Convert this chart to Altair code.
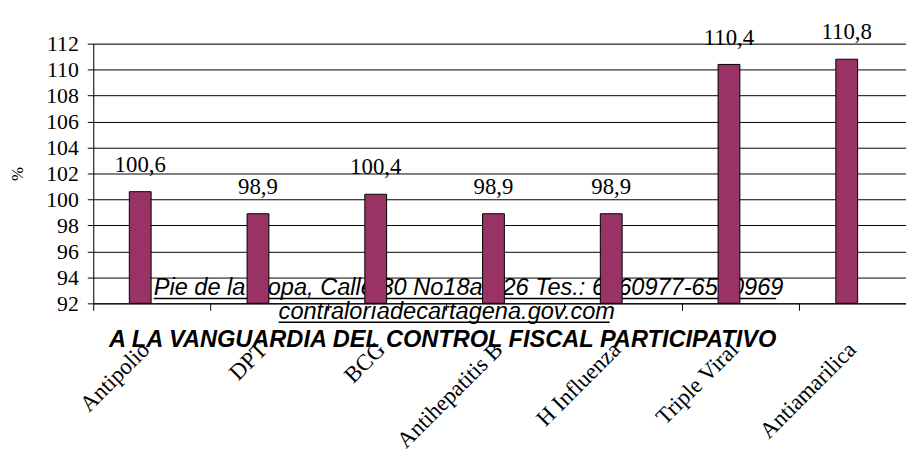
import altair as alt
import pandas as pd

categories = ["Antipolio", "DPT", "BCG", "Antihepatitis B", "H Influenza", "Triple Viral", "Antiamarilica"]
values = [100.6, 98.9, 100.4, 98.9, 98.9, 110.4, 110.8]
value_labels = ["100,6", "98,9", "100,4", "98,9", "98,9", "110,4", "110,8"]
y_ticks = [92, 94, 96, 98, 100, 102, 104, 106, 108, 110, 112]
footer_lines = [
    "Pie de la Popa, Calle 30 No18a 226 Tes.: 6560977-6560969",
    "contraloríadecartagena.gov.com",
    "A  LA VANGUARDIA DEL CONTROL FISCAL PARTICIPATIVO",
]

SERIF = "Liberation Serif, Times New Roman, DejaVu Serif, serif"
SANS = "Liberation Sans, Arial, sans-serif"

df = pd.DataFrame({"cat": categories, "value": values, "label": value_labels})

W = 820
H = 262
STEP = 118.8

x_enc = alt.X(
    "cat:N",
    sort=categories,
    scale=alt.Scale(range=[0, STEP * len(categories)], paddingInner=0, paddingOuter=0),
    axis=alt.Axis(
        title=None,
        bandPosition=0,
        labelAngle=-45,
        labelAlign="right",
        labelBaseline="top",
        labelOffset=-14,
        labelPadding=28,
        labelFont=SERIF,
        labelFontSize=23,
        labelColor="black",
        domainColor="black",
        tickColor="black",
        tickSize=7,
        grid=False,
        labelOverlap=False,
    ),
)

y_enc = alt.Y(
    "value:Q",
    scale=alt.Scale(domain=[92, 112], zero=False, nice=False),
    axis=alt.Axis(
        title="%",
        values=y_ticks,
        titleFont=SERIF,
        titleFontSize=17,
        titleFontWeight="normal",
        titleColor="black",
        titleAngle=-90,
        titleX=-76,
        titleY=131,
        titleAlign="center",
        titleBaseline="middle",
        labelFont=SERIF,
        labelFontSize=22,
        labelColor="black",
        labelPadding=9,
        labelOverlap=False,
        tickSize=6,
        tickColor="black",
        domainColor="black",
        gridColor="black",
        gridOpacity=1,
        gridWidth=1,
    ),
)

base = alt.Chart(df)


def footer(i, x, y, bold=False):
    kw = dict(font=SANS, fontStyle="italic", fontSize=23.8, align="left",
              baseline="alphabetic", color="black")
    if bold:
        kw["fontWeight"] = "bold"
    return alt.Chart(pd.DataFrame({"t": [footer_lines[i]]})).mark_text(**kw).encode(
        text="t:N", x=alt.value(x), y=alt.value(y)
    )


def underline(x1, x2, y):
    return alt.Chart(pd.DataFrame({"t": [0]})).mark_rule(color="black", strokeWidth=1.5).encode(
        x=alt.value(x1), x2=alt.value(x2), y=alt.value(y)
    )


f1 = footer(0, 61, 254)
u1 = underline(61, 689, 257)
f2 = footer(1, 187, 278)
u2 = underline(187, 521, 281)
f3 = footer(2, 16, 306, bold=True)

bars = base.mark_bar(color="#993366", stroke="black", strokeWidth=1, width=22, xOffset=-12).encode(
    x=x_enc, y=y_enc, y2=alt.datum(92)
)
texts = base.mark_text(
    font=SERIF, fontSize=23, baseline="alphabetic", dy=-20, xOffset=-12, color="black"
).encode(x=x_enc, y=y_enc, text="label:N")

chart = alt.layer(f1, u1, f2, u2, bars, texts, f3).properties(
    width=W,
    height=H,
    autosize=alt.AutoSizeParams(type="none"),
    padding={"left": 86, "top": 34, "right": 0, "bottom": 146},
).configure_view(stroke=None).configure(background="white")

chart.save("out.html", embed_options={"renderer": "svg", "actions": False})
